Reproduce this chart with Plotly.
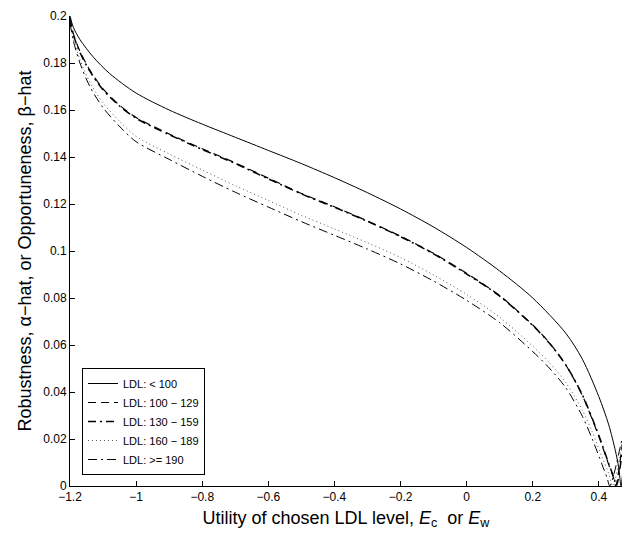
import plotly.graph_objects as go

# x values (utility E) and robustness/opportuneness values
x_lt100 = [-1.2, -1.19, -1.17, -1.13, -1.08, -1.0, -0.9, -0.8, -0.7, -0.6, -0.5, -0.4, -0.3, -0.2, -0.1, 0.0, 0.1, 0.2, 0.3, 0.35, 0.4, 0.43, 0.45, 0.46, 0.467, 0.477]
y_lt100 = [0.2000, 0.1952, 0.1900, 0.1826, 0.1755, 0.1672, 0.1600, 0.1540, 0.1484, 0.1428, 0.1372, 0.1312, 0.1248, 0.1179, 0.1102, 0.1015, 0.0915, 0.0800, 0.0650, 0.0540, 0.0380, 0.0260, 0.0150, 0.0080, 0.0, 0.015]

x_100_129 = [-1.2, -1.19, -1.17, -1.14, -1.1, -1.05, -1.0, -0.9, -0.8, -0.7, -0.6, -0.5, -0.4, -0.3, -0.2, -0.1, 0.0, 0.1, 0.2, 0.25, 0.3, 0.35, 0.4, 0.43, 0.445, 0.451, 0.471]
y_100_129 = [0.1990, 0.1925, 0.1850, 0.1770, 0.1690, 0.1620, 0.1568, 0.1498, 0.1435, 0.1375, 0.1310, 0.1245, 0.1188, 0.1128, 0.1063, 0.0990, 0.0905, 0.0810, 0.0685, 0.0610, 0.0515, 0.0385, 0.0210, 0.0090, 0.0032, 0.0, 0.018]

x_130_159 = [-1.2, -1.19, -1.17, -1.14, -1.1, -1.05, -1.0, -0.9, -0.8, -0.7, -0.6, -0.5, -0.4, -0.3, -0.2, -0.1, 0.0, 0.1, 0.2, 0.25, 0.3, 0.35, 0.4, 0.43, 0.446, 0.453, 0.473]
y_130_159 = [0.1990, 0.1920, 0.1845, 0.1765, 0.1686, 0.1617, 0.1565, 0.1495, 0.1432, 0.1372, 0.1307, 0.1243, 0.1186, 0.1126, 0.1061, 0.0988, 0.0902, 0.0808, 0.0683, 0.0608, 0.0515, 0.0388, 0.0215, 0.0095, 0.0033, 0.0, 0.017]

x_160_189 = [-1.2, -1.19, -1.17, -1.14, -1.1, -1.05, -1.0, -0.9, -0.8, -0.7, -0.6, -0.5, -0.4, -0.3, -0.2, -0.1, 0.0, 0.1, 0.2, 0.25, 0.3, 0.35, 0.38, 0.41, 0.43, 0.442, 0.472]
y_160_189 = [0.1980, 0.1905, 0.1815, 0.1718, 0.1630, 0.1552, 0.1488, 0.1413, 0.1345, 0.1278, 0.1215, 0.1152, 0.1094, 0.1035, 0.0972, 0.0898, 0.0815, 0.0718, 0.0595, 0.0525, 0.0440, 0.0322, 0.0230, 0.0122, 0.0052, 0.0, 0.020]

x_ge190 = [-1.2, -1.19, -1.17, -1.14, -1.1, -1.05, -1.0, -0.9, -0.8, -0.7, -0.6, -0.5, -0.4, -0.3, -0.2, -0.1, 0.0, 0.1, 0.2, 0.25, 0.3, 0.35, 0.38, 0.41, 0.425, 0.433, 0.473]
y_ge190 = [0.1970, 0.1895, 0.1800, 0.1700, 0.1610, 0.1530, 0.1465, 0.1390, 0.1318, 0.1250, 0.1187, 0.1125, 0.1067, 0.1008, 0.0945, 0.0872, 0.0790, 0.0695, 0.0572, 0.0502, 0.0418, 0.0297, 0.0200, 0.0090, 0.0034, 0.0, 0.022]

series_names = ["LDL: < 100", "LDL: 100 \u2212 129", "LDL: 130 \u2212 159", "LDL: 160 \u2212 189", "LDL: >= 190"]

x_ticks = [-1.2, -1.0, -0.8, -0.6, -0.4, -0.2, 0.0, 0.2, 0.4]
y_ticks = [0, 0.02, 0.04, 0.06, 0.08, 0.1, 0.12, 0.14, 0.16, 0.18, 0.2]

styles = [
    dict(color="black", width=1, dash="solid"),
    dict(color="black", width=1.2, dash="8px,5px"),
    dict(color="black", width=1.5, dash="8px,4px,2px,4px"),
    dict(color="#555555", width=1, dash="1px,3px"),
    dict(color="black", width=1, dash="9px,4px,2px,4px"),
]

xs = [x_lt100, x_100_129, x_130_159, x_160_189, x_ge190]
ys = [y_lt100, y_100_129, y_130_159, y_160_189, y_ge190]

fig = go.Figure()
for name, x, y, st in zip(series_names, xs, ys, styles):
    fig.add_trace(go.Scatter(x=x, y=y, mode="lines", name=name,
                             line=dict(shape="spline", smoothing=0.8, **st)))

font_family = "Liberation Sans, Arial, sans-serif"
fig.update_layout(
    width=625, height=540,
    margin=dict(l=70, r=3, t=16, b=54),
    plot_bgcolor="white", paper_bgcolor="white",
    font=dict(family=font_family, color="black", size=12),
    showlegend=True,
    legend=dict(x=0.0217, y=0.0234, xanchor="left", yanchor="bottom",
                bordercolor="black", borderwidth=1, bgcolor="white",
                font=dict(size=11, family=font_family), tracegroupgap=0,
                itemwidth=30),
    xaxis=dict(range=[-1.2, 0.47], tickvals=x_ticks, ticktext=[("%g" % v).replace("-", "\u2212") for v in x_ticks],
               showline=True, linecolor="black", linewidth=1, mirror=False,
               ticks="inside", ticklen=5, tickcolor="black", showgrid=False, zeroline=False,
               tickfont=dict(size=12),
               title=dict(text="Utility of chosen LDL level, <i>E</i><sub>c</sub>  or <i>E</i><sub>w</sub>",
                          font=dict(size=18), standoff=7)),
    yaxis=dict(range=[0, 0.2], tickvals=y_ticks, ticktext=["%g" % v for v in y_ticks],
               showline=True, linecolor="black", linewidth=1, mirror=False,
               ticks="inside", ticklen=5, tickcolor="black", showgrid=False, zeroline=False,
               tickfont=dict(size=12),
               title=dict(text="Robustness, \u03b1\u2212hat, or Opportuneness, \u03b2\u2212hat",
                          font=dict(size=18), standoff=6)),
)

fig.write_html("out.html")
